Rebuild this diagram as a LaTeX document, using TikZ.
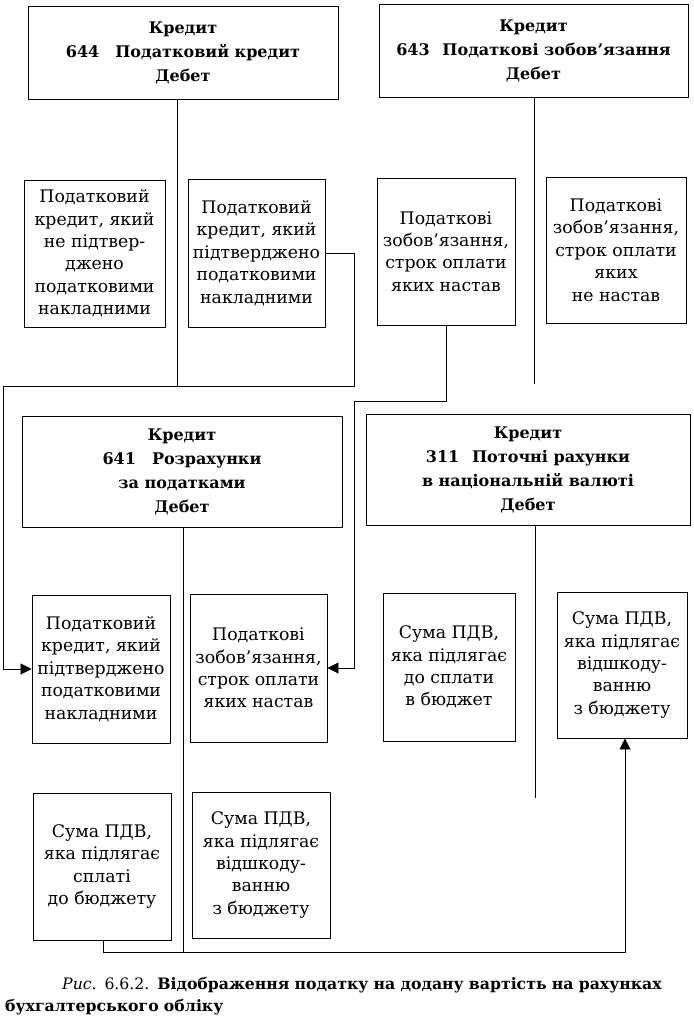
\documentclass[tikz,border=0pt]{standalone}
\usepackage{fontspec}
\setmainfont{DejaVu Serif}
\usetikzlibrary{arrows.meta}
\begin{document}
\begin{tikzpicture}[x=1pt,y=-1pt,
  box/.style={draw, line width=0.9pt, align=center, inner sep=0pt, font=\fontsize{17.3}{22.4}\selectfont},
  head/.style={draw, line width=0.9pt, align=center, inner sep=0pt, font=\fontsize{16}{24}\selectfont\bfseries},
  link/.style={line width=0.8pt},
  post/.style={link, -{Triangle[length=11pt,width=11pt]}}
]
\useasboundingbox (0,0) rectangle (694,1021);

% headers
\node[head, minimum width=310pt, minimum height=93pt] (h644) at (183,52.5)
  {Кредит\\644\hspace{1em}Податковий кредит\\Дебет};
\node[head, minimum width=309pt, minimum height=93pt] (h643) at (533.5,50.5)
  {Кредит\\643\hspace{0.8em}Податкові зобов’язання\\Дебет};
\node[head, minimum width=320pt, minimum height=111pt] (h641) at (182,471.5)
  {Кредит\\641\hspace{1em}Розрахунки\\за податками\\Дебет};
\node[head, minimum width=324pt, minimum height=111pt] (h311) at (528,469.5)
  {Кредит\\311\hspace{0.8em}Поточні рахунки\\в національній валюті\\Дебет};

% row 1
\node[box, minimum width=141pt, minimum height=147pt] (a1) at (94.5,253.5)
  {Податковий\\кредит, який\\не підтвер-\\джено\\податковими\\накладними};
\node[box, minimum width=137pt, minimum height=148pt] (a2) at (256.5,253)
  {Податковий\\кредит, який\\підтверджено\\податковими\\накладними};
\node[box, minimum width=138pt, minimum height=147pt] (a3) at (446,251.5)
  {Податкові\\зобов’язання,\\строк оплати\\яких настав};
\node[box, minimum width=140pt, minimum height=146pt] (a4) at (616,250)
  {Податкові\\зобов’язання,\\строк оплати\\яких\\не настав};

% row 3
\node[box, minimum width=138pt, minimum height=148pt] (c1) at (101,669)
  {Податковий\\кредит, який\\підтверджено\\податковими\\накладними};
\node[box, minimum width=137pt, minimum height=148pt] (c2) at (258.5,668)
  {Податкові\\зобов'язання,\\строк оплати\\яких настав};
\node[box, minimum width=132pt, minimum height=148pt] (c3) at (449,667)
  {Сума ПДВ,\\яка підлягає\\до сплати\\в бюджет};
\node[box, minimum width=130pt, minimum height=146pt] (c4) at (622,665)
  {Сума ПДВ,\\яка підлягає\\відшкоду-\\ванню\\з бюджету};

% row 4
\node[box, minimum width=138pt, minimum height=147pt] (d1) at (102,866.5)
  {Сума ПДВ,\\яка підлягає\\сплаті\\до бюджету};
\node[box, minimum width=138pt, minimum height=146pt] (d2) at (261,865)
  {Сума ПДВ,\\яка підлягає\\відшкоду-\\ванню\\з бюджету};

% T-account lines
\coordinate (e644) at (177,386);
\coordinate (e643) at (534,384);
\coordinate (e641) at (183,952);
\coordinate (e311) at (535,798);
\draw[link] (h644.south -| e644) -- (e644);
\draw[link] (h643.south -| e643) -- (e643);
\draw[link] (h641.south -| e641) -- (e641);
\draw[link] (h311.south -| e311) -- (e311);

% postings
\coordinate (r1) at (354,386);
\coordinate (l1) at (3,386);
\draw[post] (a2.east) -| (r1) -- (l1) |- (c1.west);

\coordinate (r2) at (354,401);
\draw[post] (a3.south) |- (r2) |- (c2.east);

\coordinate (b1) at (103,952);
\coordinate (b2) at (625,952);
\draw[post] (d1.south -| b1) -- (b1) -- (b2) -- (b2 |- c4.south);

% caption
\node[anchor=north west, inner sep=0pt, text width=680pt, align=left,
      font=\fontsize{15.7}{22}\selectfont] (cap) at (5,977)
  {\hspace*{57pt}{\itshape Рис}. 6.6.2. \textbf{Відображення податку на додану вартість на рахунках}\\
   \textbf{бухгалтерського обліку}};
\end{tikzpicture}
\end{document}
